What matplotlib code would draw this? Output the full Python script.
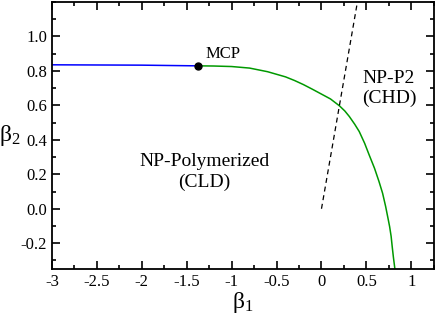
import numpy as np
import matplotlib
matplotlib.use('Agg')
import matplotlib.pyplot as plt
from matplotlib.ticker import MultipleLocator

plt.rcParams['font.family'] = ['Liberation Serif', 'DejaVu Serif']
plt.rcParams['mathtext.fontset'] = 'custom'
plt.rcParams['mathtext.rm'] = 'Liberation Serif'
plt.rcParams['mathtext.it'] = 'Liberation Serif:italic'

# blue branch (left of MCP)
blue_x = [-3.0, -2.5, -2.0, -1.7, -1.38]
blue_y = [0.835, 0.834, 0.833, 0.831, 0.829]

# green branch (right of MCP)
green_x = [-1.38, -1.2, -1.0, -0.8, -0.6, -0.4, -0.3, -0.2, -0.1, 0.0, 0.1,
           0.2, 0.26, 0.31, 0.37, 0.42, 0.48, 0.53, 0.59, 0.64, 0.68,
           0.714, 0.74, 0.758, 0.775, 0.787, 0.80, 0.817]
green_y = [0.829, 0.828, 0.825, 0.816, 0.795, 0.765, 0.744, 0.72, 0.693, 0.665,
           0.637, 0.597, 0.567, 0.535, 0.49, 0.448, 0.38, 0.313, 0.235, 0.158,
           0.09, 0.013, -0.055, -0.103, -0.16, -0.22, -0.28, -0.35]

# dashed line
dash_x = [0.0, 0.4]
dash_y = [0.0, 1.2]

mcp_x, mcp_y = -1.376, 0.829

fig = plt.figure(figsize=(4.36, 3.14), dpi=100)
ax = fig.add_axes([0.119, 0.143, 0.876, 0.851])

ax.plot(blue_x, blue_y, color='#0000ff', lw=1.1)
ax.plot(green_x, green_y, color='#009900', lw=1.1)
ax.plot(dash_x, dash_y, color='black', lw=0.9, ls=(0, (4, 3)))
ax.plot([mcp_x], [mcp_y], 'o', color='black', ms=5, zorder=5)

ax.text(-1.29, 0.875, 'MCP', fontsize=12, ha='left', va='baseline')
ax.text(0.75, 0.70, 'NP-P2\n(CHD)', fontsize=14, ha='center', va='center',
        linespacing=1.2)
ax.text(-1.3, 0.215, 'NP-Polymerized\n(CLD)', fontsize=14, ha='center',
        va='center', linespacing=1.25)

ax.set_xlim(-3, 1.25)
ax.set_ylim(-0.35, 1.2)
ax.xaxis.set_minor_locator(MultipleLocator(0.25))
ax.yaxis.set_minor_locator(MultipleLocator(0.1))
ax.set_xticks([-3, -2.5, -2, -1.5, -1, -0.5, 0, 0.5, 1])
ax.set_xticklabels(['-3', '-2.5', '-2', '-1.5', '-1', '-0.5', '0', '0.5', '1'])
ax.set_yticks([-0.2, 0.0, 0.2, 0.4, 0.6, 0.8, 1.0])
ax.set_yticklabels(['-0.2', '0.0', '0.2', '0.4', '0.6', '0.8', '1.0'])

ax.tick_params(which='both', direction='in', top=True, right=True,
               labelsize=12, width=1.2)
ax.tick_params(which='major', length=6)
ax.tick_params(which='minor', length=3)
for s in ax.spines.values():
    s.set_linewidth(1.3)

ax.set_xlabel(r'$\mathrm{\beta}_1$', fontsize=17, labelpad=0)
ax.set_ylabel(r'$\mathrm{\beta}_2$', fontsize=17, rotation=0, labelpad=8,
              va='center')

plt.savefig('out.png', dpi=100)
